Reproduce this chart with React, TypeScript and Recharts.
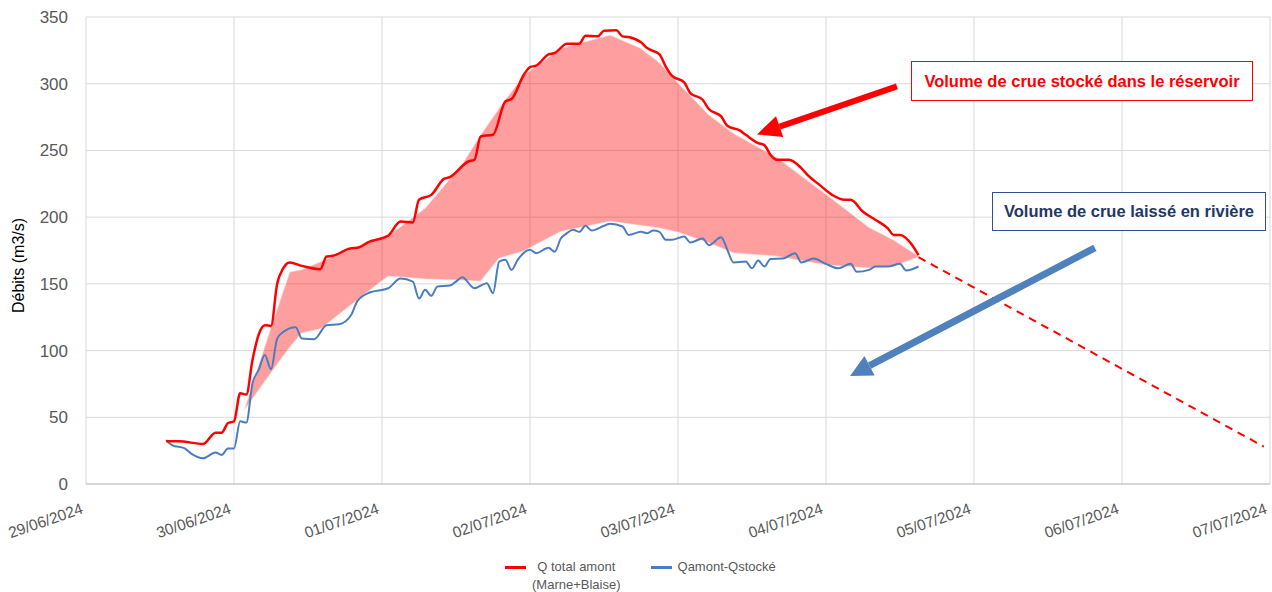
import {
  ComposedChart,
  Line,
  Area,
  XAxis,
  YAxis,
  CartesianGrid,
  ReferenceLine,
} from 'recharts';

// hours counted from 29/06/2024 00:00
const dayLabels = [
  '29/06/2024',
  '30/06/2024',
  '01/07/2024',
  '02/07/2024',
  '03/07/2024',
  '04/07/2024',
  '05/07/2024',
  '06/07/2024',
  '07/07/2024',
];
const dayTicks = [0, 24, 48, 72, 96, 120, 144, 168, 192];
const flowTicks = [0, 50, 100, 150, 200, 250, 300, 350];

// Q total amont (Marne+Blaise)
const totalHours = [
  13, 15, 19, 21, 22, 23, 24, 25, 26, 27, 28, 29, 30, 31, 32, 33, 35, 38, 39, 40, 43, 44, 46, 47,
  49, 51, 53, 54, 56, 58, 59, 62, 63, 64, 66, 68, 69, 71, 72, 73, 75, 76, 78, 80, 81, 83, 84, 86,
  87, 88, 90, 91, 93, 94, 95, 97, 98, 100, 101, 103, 104, 106, 107, 109, 110, 111, 112, 114, 116,
  117, 119, 121, 123, 124, 126, 128, 130, 131, 132, 134, 135,
];
const totalFlow = [
  32, 32, 30, 38.5, 38.5, 45.5, 47, 68, 67, 93, 112, 119, 118.5, 150, 161.7, 166, 163.5, 161, 170.5,
  171, 176.7, 177, 181.7, 183, 186, 196.7, 196, 213, 216.7, 228.5, 230, 241.7, 243, 260.5, 261.7,
  286.7, 288.5, 306.7, 312.5, 313.5, 322, 323, 330, 330, 336, 335.5, 339.7, 340, 335.5, 335, 331,
  326.7, 322, 313, 306, 301, 293, 288, 281, 275.5, 268.5, 265, 261.7, 255.5, 254, 246.7, 243, 243,
  236.7, 231.7, 224, 216.7, 213, 213, 204, 198, 191.7, 186.7, 186.7, 179, 171.5,
];

// Qamont-Qstocké
const riverHours = [
  13, 14, 16, 17, 19, 21, 22, 23, 24, 25, 26, 27, 28, 29, 30, 31, 32, 34, 35, 37, 39, 41, 43, 44,
  46, 49, 51, 53, 54, 55, 56, 57, 59, 60, 61, 63, 65, 66, 67, 68, 69, 70, 72, 73, 75, 76, 77, 78,
  79, 80, 81, 82, 84, 85, 87, 88, 90, 91, 92, 93, 94, 95, 97, 98, 100, 101, 103, 104, 105, 107,
  108, 109, 110, 111, 113, 115, 116, 118, 120, 122, 124, 125, 127, 128, 130, 132, 133, 135,
];
const riverFlow = [
  33, 29, 26.7, 23, 19.3, 23.7, 21.7, 26.7, 26.7, 47, 46, 75.5, 85.5, 96.7, 86, 109, 114, 117.5,
  109, 108.5, 119, 119.7, 126.7, 137, 143.5, 146.7, 154, 151.7, 139, 145.5, 141, 148, 148.7, 151.7,
  155, 146.7, 150.5, 143, 166.7, 168, 160.5, 168, 175.5, 173, 177, 174, 184, 188, 190.5, 189, 193.5,
  190, 193.5, 195, 193, 186.7, 189, 188, 190, 189, 183, 183, 185.5, 181, 184, 179, 185, 175.5, 166,
  166.7, 161.7, 167.5, 163, 168.7, 169, 173, 166, 169, 165, 161.7, 165, 159, 160.5, 163, 163, 165,
  160, 163,
];

// stored volume shape (between the two curves)
const bandHours = [
  25.5, 30, 33, 35, 38, 47, 49, 51, 55, 61, 64, 67, 71, 77, 85, 90, 93, 96, 101, 105, 112, 120, 127,
  131, 135,
];
const bandLow = [
  54, 83, 102, 113, 116, 148.5, 155.5, 155, 153.5, 152.5, 151.7, 169, 174.5, 189, 196.7, 193.5,
  191.7, 188.5, 180.5, 173, 170.5, 164, 161.7, 163, 170,
];
const bandHigh = [
  54, 118, 159, 161, 166.7, 184, 187, 193, 207, 240, 262, 282, 306.7, 326.7, 336.7, 326.7, 316, 301,
  277, 263, 245, 217.5, 192.5, 183, 171,
];

// projected decline
const trendHours = [135, 191];
const trendFlow = [170, 28];

// annotation arrows [hour, flow] start -> tip
const storedArrow = [
  [131.5, 298],
  [108.8, 262],
];
const riverArrow = [
  [163.6, 177],
  [123.9, 81],
];

const totalData = totalHours.map((h, i) => ({ h, q: totalFlow[i] }));
const riverData = riverHours.map((h, i) => ({ h, q: riverFlow[i] }));
const bandData = bandHours.map((h, i) => ({ h, range: [bandLow[i], bandHigh[i]] }));
const trendData = trendHours.map((h, i) => ({ h, q: trendFlow[i] }));

const arrow = (color: string, width: number, head: number, half: number) => (props: any) => {
  const { x1, y1, x2, y2 } = props;
  const a = Math.atan2(y2 - y1, x2 - x1);
  const bx = x2 - head * Math.cos(a);
  const by = y2 - head * Math.sin(a);
  const px = -Math.sin(a);
  const py = Math.cos(a);
  return (
    <g>
      <line x1={x1} y1={y1} x2={bx} y2={by} stroke={color} strokeWidth={width} />
      <polygon
        points={`${x2},${y2} ${bx + px * half},${by + py * half} ${bx - px * half},${by - py * half}`}
        fill={color}
      />
    </g>
  );
};

const DateTick = (props: any) => {
  const { x, y, payload } = props;
  const label = dayLabels[dayTicks.indexOf(payload.value)];
  const ax = x - 2;
  const ay = y + 21;
  return (
    <text
      x={ax}
      y={ay}
      transform={`rotate(-19 ${ax} ${ay})`}
      textAnchor="end"
      fill="#595959"
      fontSize={15.5}
    >
      {label}
    </text>
  );
};

const boxStyle = {
  position: 'absolute' as const,
  background: '#fff',
  fontWeight: 700,
  fontSize: 16.5,
  display: 'flex',
  alignItems: 'center',
  justifyContent: 'center',
  boxSizing: 'border-box' as const,
};

const App = () => {
  return (
    <div
      style={{
        position: 'absolute',
        left: 0,
        top: 0,
        width: 1272,
        height: 592,
        background: '#fff',
        fontFamily: '"Liberation Sans", Arial, sans-serif',
      }}
    >
      <ComposedChart
        width={1272}
        height={592}
        margin={{ top: 17, right: 2, left: 0, bottom: 48 }}
      >
        <CartesianGrid stroke="#D9D9D9" />
        <XAxis
          type="number"
          dataKey="h"
          domain={[0, 192]}
          ticks={dayTicks}
          height={60}
          tickLine={false}
          axisLine={{ stroke: '#BFBFBF' }}
          tick={<DateTick />}
          interval={0}
        />
        <YAxis
          type="number"
          domain={[0, 350]}
          ticks={flowTicks}
          width={86}
          tickLine={false}
          axisLine={false}
          tickSize={0}
          tickMargin={18}
          tick={{ fill: '#595959', fontSize: 17 }}
          label={{
            value: 'Débits (m3/s)',
            angle: -90,
            position: 'center',
            dx: -25,
            dy: 15,
            fill: '#000',
            fontSize: 16,
          }}
        />
        <Line
          data={riverData}
          dataKey="q"
          type="monotone"
          stroke="#4A7CC0"
          strokeWidth={2}
          dot={false}
          isAnimationActive={false}
        />
        <Area
          data={bandData}
          dataKey="range"
          type="linear"
          fill="#FF0000"
          fillOpacity={0.38}
          stroke="#FFFFFF"
          strokeOpacity={0.6}
          strokeWidth={1.5}
          isAnimationActive={false}
        />
        <Line
          data={totalData}
          dataKey="q"
          type="monotone"
          stroke="#FF0000"
          strokeWidth={2.5}
          dot={false}
          isAnimationActive={false}
        />
        <Line
          data={trendData}
          dataKey="q"
          type="linear"
          stroke="#FF0000"
          strokeWidth={2}
          strokeDasharray="8 6"
          dot={false}
          isAnimationActive={false}
        />
        <ReferenceLine
          segment={storedArrow.map(([x, y]) => ({ x, y }))}
          shape={arrow('#FF0000', 6, 24, 11)}
        />
        <ReferenceLine
          segment={riverArrow.map(([x, y]) => ({ x, y }))}
          shape={arrow('#4F81BD', 7, 22, 11)}
        />
      </ComposedChart>

      <div
        style={{
          ...boxStyle,
          left: 911,
          top: 61,
          width: 342,
          height: 40,
          border: '1.5px solid #FF0000',
          color: '#FF0000',
        }}
      >
        Volume de crue stocké dans le réservoir
      </div>
      <div
        style={{
          ...boxStyle,
          left: 992,
          top: 192,
          width: 274,
          height: 39,
          border: '1.5px solid #2F528F',
          color: '#1F3864',
        }}
      >
        Volume de crue laissé en rivière
      </div>

      <div
        style={{
          position: 'absolute',
          top: 558,
          left: 505,
          display: 'flex',
          fontSize: 13,
          color: '#595959',
          lineHeight: '18px',
        }}
      >
        <div style={{ display: 'flex', alignItems: 'flex-start' }}>
          <div style={{ width: 21, height: 3, background: '#FF0000', marginTop: 8, marginRight: 6 }} />
          <div style={{ textAlign: 'center' }}>
            Q total amont
            <br />
            (Marne+Blaise)
          </div>
        </div>
        <div style={{ display: 'flex', alignItems: 'flex-start', marginLeft: 30 }}>
          <div style={{ width: 21, height: 3, background: '#4A7CC0', marginTop: 8, marginRight: 6 }} />
          <div>Qamont-Qstocké</div>
        </div>
      </div>
    </div>
  );
};

export default App;
